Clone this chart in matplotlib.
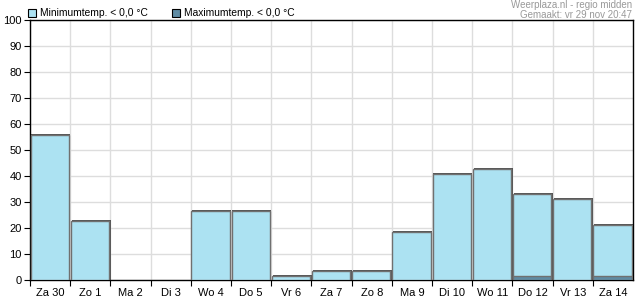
import matplotlib.pyplot as plt
from matplotlib.patches import Rectangle

plt.rcParams["font.family"] = ["Liberation Sans", "DejaVu Sans"]

days = ["Za 30", "Zo 1", "Ma 2", "Di 3", "Wo 4", "Do 5", "Vr 6", "Za 7",
        "Zo 8", "Ma 9", "Di 10", "Wo 11", "Do 12", "Vr 13", "Za 14"]
min_below_zero = [56, 23, 0, 0, 27, 27, 2, 4, 4, 19, 41, 43, 33.5, 31.5, 21.5]
max_below_zero = [0, 0, 0, 0, 0, 0, 0, 0, 0, 0, 0, 0, 2, 0, 2]

min_color = "#ace2f2"
max_color = "#5f8ba3"

fig = plt.figure(figsize=(6.35, 3.0), dpi=100)
ax = fig.add_axes([30 / 635, 20 / 300, 603 / 635, 260 / 300])

n = len(days)
x = list(range(n))

# shadow + bars
for i in x:
    for vals, col in ((min_below_zero, min_color), (max_below_zero, max_color)):
        v = vals[i]
        if v <= 0:
            continue
        ax.bar(i + 0.02, v, width=0.97, align="center", color="#555555",
               linewidth=0, zorder=2)
        ax.bar(i - 0.01, v - 0.4, width=0.95, align="center", color=col,
               edgecolor="#707070", linewidth=1.0, zorder=3)

ax.set_xlim(-0.5, n - 0.5)
ax.set_ylim(0, 100)
ax.set_yticks(range(0, 101, 10))
ax.set_xticks([i - 0.5 for i in range(n)], minor=False)
ax.set_xticklabels([])
ax.set_xticks(x, minor=True)
ax.set_xticklabels(days, minor=True)
ax.tick_params(axis="x", which="minor", length=0, pad=6, labelsize=8)
ax.tick_params(axis="x", which="major", length=4, direction="out", color="black")
ax.tick_params(axis="y", length=4, direction="out", labelsize=8, pad=2)
ax.grid(True, which="major", color="#dddddd", linewidth=1, zorder=0)
ax.set_axisbelow(True)
for s in ax.spines.values():
    s.set_color("black")
    s.set_linewidth(1)

# legend
fig.patches.append(Rectangle((28 / 635, 1 - 17 / 300), 8 / 635, 8 / 300,
                             transform=fig.transFigure, facecolor=min_color,
                             edgecolor="black", linewidth=0.8))
fig.text(40 / 635, 1 - 13 / 300, "Minimumtemp. < 0,0 °C", fontsize=7.4,
         va="center", ha="left")
fig.patches.append(Rectangle((172 / 635, 1 - 17 / 300), 8 / 635, 8 / 300,
                             transform=fig.transFigure, facecolor=max_color,
                             edgecolor="black", linewidth=0.8))
fig.text(184 / 635, 1 - 13 / 300, "Maximumtemp. < 0,0 °C", fontsize=7.4,
         va="center", ha="left")

fig.text(632 / 635, 1 - 5 / 300, "Weerplaza.nl - regio midden", fontsize=7,
         color="#999999", ha="right", va="center")
fig.text(632 / 635, 1 - 15 / 300, "Gemaakt: vr 29 nov 20:47", fontsize=7,
         color="#999999", ha="right", va="center")

fig.savefig("out.png", dpi=100)
